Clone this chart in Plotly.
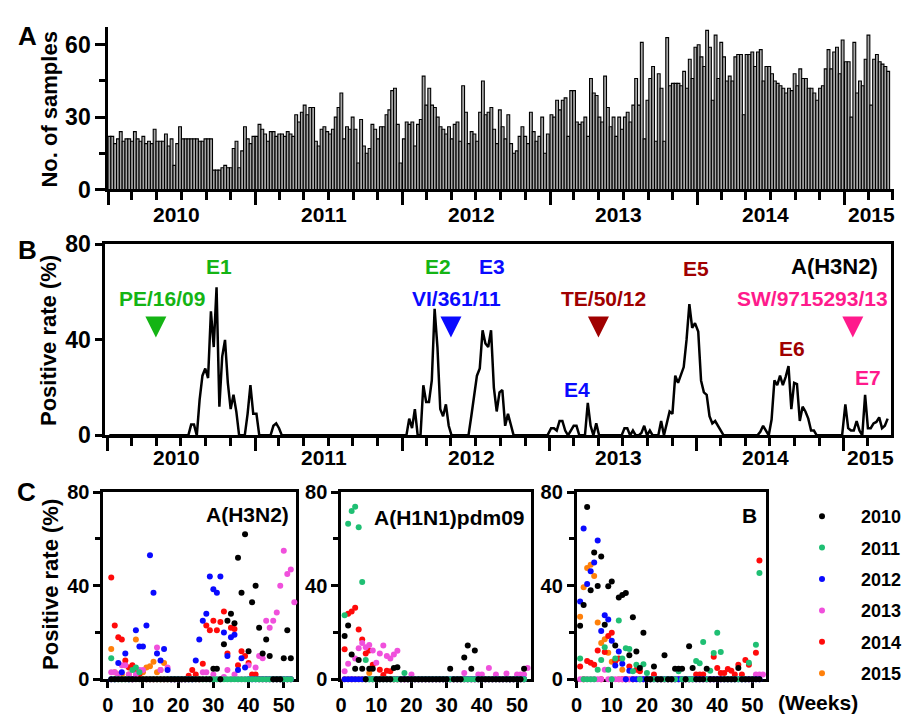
import plotly.graph_objects as go
from datetime import datetime, timedelta

W, H = 907, 727
FONT = 'Liberation Sans, Arial, sans-serif'


def fx(p):
    return p / W


def fy(p):
    return 1 - p / H


# ---------------- data ----------------
years = [2010, 2011, 2012, 2013, 2014, 2015]
year_labels = ['2010', '2011', '2012', '2013', '2014', '2015']
year_colors = ['#000000', '#1FBF73', '#0A0AFF', '#F050DC', '#FF0A0A', '#FF800A']
year_boundaries = ['2010-01-01', '2011-01-01', '2012-01-01', '2013-01-01', '2014-01-01', '2015-01-01']
year_label_dates = ['2010-06-20', '2011-06-20', '2012-06-20', '2013-06-20', '2014-06-20', '2015-03-08']

# Panel A: weekly number of samples
samples_2010 = [22, 22, 19, 21, 24, 20, 21, 21, 20, 24, 21, 20, 22, 19, 20, 19, 25, 20, 20, 20,
                23, 18, 21, 10, 19, 26, 21, 21, 21, 21, 21, 21, 20, 20, 21, 21, 21, 8, 8, 8,
                9, 10, 9, 9, 17, 20, 9, 16, 26, 21, 19, 22]
samples_2011 = [22, 27, 25, 23, 20, 24, 24, 22, 23, 23, 22, 24, 23, 22, 31, 28, 32, 35, 31, 34,
                34, 20, 18, 25, 26, 24, 23, 25, 30, 34, 40, 21, 26, 25, 30, 25, 11, 29, 18, 15,
                17, 27, 25, 21, 26, 26, 31, 33, 41, 42, 27, 11]
samples_2012 = [21, 28, 27, 28, 18, 27, 29, 47, 35, 42, 35, 34, 30, 26, 25, 23, 26, 21, 27, 28,
                20, 43, 32, 19, 24, 23, 20, 32, 45, 31, 32, 34, 25, 19, 33, 26, 21, 31, 19, 15,
                16, 22, 26, 22, 19, 32, 24, 20, 22, 30, 15, 23]
samples_2013 = [31, 30, 37, 33, 37, 38, 22, 41, 41, 28, 27, 28, 30, 22, 46, 40, 39, 30, 28, 47,
                34, 26, 30, 22, 30, 25, 30, 32, 28, 35, 46, 35, 61, 21, 37, 46, 51, 20, 48, 42,
                20, 63, 43, 44, 44, 44, 43, 49, 42, 54, 46, 59]
samples_2014 = [60, 55, 51, 66, 59, 37, 64, 46, 61, 55, 45, 47, 45, 55, 56, 56, 31, 56, 56, 57,
                51, 57, 58, 45, 51, 51, 48, 45, 44, 43, 42, 40, 42, 41, 48, 43, 50, 46, 46, 42,
                42, 40, 37, 42, 43, 50, 58, 50, 57, 59, 48, 62]
samples_2015 = [53, 53, 30, 61, 40, 45, 43, 54, 64, 35, 54, 56, 53, 52, 51, 49]

# A(H3N2) weekly positive rate (%)
h3_2010 = [0, 0, 0, 0, 0, 0, 0, 0, 0, 0, 0, 0, 0, 0, 0, 0, 0, 0, 0, 0,
           0, 0, 0, 0, 0, 0, 0, 0, 0, 4.5, 4.5, 0, 15, 25, 28, 24, 52, 37, 62, 12,
           33, 40, 22, 11, 17, 10, 0, 0, 0, 9, 21, 9]
h3_2011 = [9, 0, 0, 0, 0, 0, 4, 5, 3, 0, 0, 0, 0, 0, 0, 0, 0, 0, 0, 0,
           0, 0, 0, 0, 0, 0, 0, 0, 0, 0, 0, 0, 0, 0, 0, 0, 0, 0, 0, 0,
           0, 0, 0, 0, 0, 0, 0, 0, 0, 0, 0, 0]
h3_2012 = [0, 0, 7, 3, 11, 0, 0, 21, 14, 14, 23, 53, 37, 11, 8, 13, 4, 0, 0, 0,
           0, 0, 0, 0, 8, 17, 25, 28, 44, 38.5, 37, 44, 20, 10, 18, 19, 4, 9, 5, 0,
           0, 0, 0, 0, 0, 0, 0, 0, 0, 0, 0, 0]
h3_2013 = [3, 3, 2, 6, 6, 2, 0, 2, 4, 4, 0, 0, 0, 13.6, 4, 0, 5, 0, 0, 0,
           0, 0, 0, 0, 0, 0, 3, 3, 0, 2, 0, 0, 1, 4, 0, 2, 0, 0, 0, 6,
           0, 5, 10, 9, 25, 22, 25, 28.6, 40, 55, 45, 47, 33]
h3_2014 = [43.5, 23, 18, 17, 8, 5, 6, 4, 2, 0, 0, 0, 0, 0, 0, 0, 0, 0, 0, 0,
           0, 0, 1.5, 4, 2, 0, 6.6, 23, 21, 25, 21, 24.5, 29, 11, 22, 21.5, 6, 12, 10, 7,
           2, 2, 0, 0, 0, 0, 0, 0, 0, 0, 0, 0]
h3_2015 = [13, 3, 2, 2, 6, 2, 0, 17, 3, 3, 5, 5.6, 7.5, 3, 4, 7]

# A(H1N1)pdm09 weekly positive rate (%)
h1_2010 = [18.5, 23, 10.6, 4.5, 8.2, 4.5, 0, 4.5, 4.5, 0, 0, 0, 0, 0, 4.8, 5.2, 0, 0, 0, 0,
           0, 0, 0, 0, 0, 0, 0, 0, 0, 0, 4.5, 0, 0, 0, 9.3, 14.4, 4.5, 12.3, 0, 0,
           0, 0, 0, 0, 0, 0, 0, 0, 0, 0, 0, 4.5]
h1_2011 = [27.4, 66.5, 72, 73.8, 65, 41.6, 8.2, 0, 0, 0, 0, 0, 0, 0, 0, 0, 0, 2.7, 0, 0,
           0, 0, 0, 0, 0, 0, 0, 0, 0, 0, 0, 0, 0, 0, 0, 0, 0, 0, 0, 0,
           0, 0, 0, 0, 0, 0, 0, 0, 0, 0, 0, 0]
h1_2012 = [0, 0, 0, 0, 0, 0, 0, 0, 0, 0, 0, 0, 0, 0, 0, 0, 0, 0, 0, 0,
           0, 0, 0, 0, 0, 0, 0, 0, 0, 0, 0, 0, 0, 0, 0, 0, 0, 0, 0, 0,
           0, 0, 0, 0, 0, 0, 0, 0, 0, 0, 0, 0]
h1_2013 = [3.4, 6.6, 0, 8.9, 13.3, 15.5, 13.7, 14.7, 12.3, 7.1, 11, 14.4, 10, 8.9, 10.6, 12.2, 0, 0, 0, 2,
           0, 0, 0, 0, 0, 0, 0, 0, 0, 0, 0, 0, 0, 0, 2.7, 0, 0, 0, 2, 2,
           0, 4.8, 0, 2, 0, 0, 2.5, 0, 0, 2, 2, 2, 4.8]
h1_2014 = [12.8, 28, 29, 30.6, 21.3, 17, 11, 12.3, 6.2, 0, 4.1, 1.8, 3.7, 3.4, 0, 0, 0, 0, 0, 0,
           0, 0, 0, 0, 0, 0, 0, 0, 0, 0, 0, 0, 0, 0, 0, 0, 0, 0, 0, 0,
           0, 0, 0, 0, 0, 0, 0, 0, 0, 0, 0, 0]
h1_2015 = [0, 0, 0, 0, 0, 0, 0, 2.7, 0, 0, 0, 0, 0, 0, 0, 0]

# Influenza B weekly positive rate (%)
b_2010 = [22.9, 31.8, 73.7, 38.1, 54.2, 39.9, 52.5, 23.3, 39.8, 41.8, 14.4, 35, 36, 36.9, 10.3, 26.5, 11.9, 4.8, 19.9, 0,
          0, 5.5, 0, 0, 10.3, 0, 0, 4.5, 4.5, 4.5, 0, 14.1, 4.8, 0, 0, 0, 4.5, 0, 0, 0,
          0, 0, 0, 0, 0, 4.8, 0, 0, 0, 0, 0, 0]
b_2011 = [8.9, 0, 0, 0, 0, 4.1, 8.2, 13.7, 4.1, 0, 8.9, 25.1, 8.9, 13.3, 13, 3.4, 6.2, 0, 6.4, 2.7,
          0, 0, 0, 0, 0, 0, 0, 0, 3.4, 0, 0, 0, 0, 7.8, 6.9, 16, 0, 3.7, 11.2, 19.9,
          11.7, 0, 0, 0, 0, 0, 0, 0, 7.1, 0, 14.8, 45.5]
b_2012 = [33.3, 64.5, 40.7, 46.2, 50, 59.4, 20.6, 27.4, 25.6, 16.5, 5.9, 11.9, 6.6, 0, 3.7, 0, 0, 0, 0, 0,
          0, 0, 0, 0, 0, 0, 0, 0, 0, 0, 0, 0, 0, 0, 0, 0, 0, 0, 0, 0,
          0, 0, 0, 0, 0, 0, 0, 0, 0, 0, 0, 0]
b_2013 = [0, 0, 0, 0, 0, 0, 0, 4.1, 0, 0, 0, 0, 0, 0, 0, 0, 0, 0, 0, 0,
          0, 0, 0, 0, 0, 0, 0, 0, 0, 0, 0, 0, 0, 0, 0, 0, 0, 0, 0, 0,
          0, 0, 0, 0, 0, 0, 0, 0, 0, 0, 2, 2, 2]
b_2014 = [5.5, 0, 7.8, 7.1, 6.2, 12.3, 0, 11.7, 18.5, 19.9, 7.8, 8.9, 0, 0, 5.5, 0, 4.1, 3.4, 0, 0,
          0, 2, 0, 0, 0, 0, 0, 0, 0, 0, 0, 0, 0, 2, 2, 2, 0, 0, 9.6, 4.8,
          2.7, 2.7, 4.4, 3.7, 2, 6.2, 2, 8.2, 6.2, 0, 11.4, 50.8]
b_2015 = [26.7, 39.4, 47.6, 49, 44.2, 24.3, 15.5, 17.1, 11.4, 7.5, 7.8, 0, 4.1, 0, 0, 0]

# vaccine strain markers in panel B
strain_names = ['PE/16/09', 'VI/361/11', 'TE/50/12', 'SW/9715293/13']
strain_dates = ['2010-04-30', '2012-05-01', '2013-05-02', '2015-01-23']
strain_colors = ['#14B414', '#0A0AFF', '#A00000', '#FF1A8C']
strain_level = 41

samples_by_year = [samples_2010, samples_2011, samples_2012, samples_2013, samples_2014, samples_2015]
h3_by_year = [h3_2010, h3_2011, h3_2012, h3_2013, h3_2014, h3_2015]
h1_by_year = [h1_2010, h1_2011, h1_2012, h1_2013, h1_2014, h1_2015]
b_by_year = [b_2010, b_2011, b_2012, b_2013, b_2014, b_2015]


def wdate(yr, w):
    return datetime(yr, 1, 1) + timedelta(days=(w - 0.5) * 7)


fig = go.Figure()

# ---------- Panel A ----------
xa, ya = [], []
for yr, vals in zip(years, samples_by_year):
    for i, v in enumerate(vals):
        xa.append(wdate(yr, i + 1))
        ya.append(v)
fig.add_trace(go.Bar(x=xa, y=ya, width=7 * 86400000,
                     marker=dict(color='#a8a8a8', line=dict(color='black', width=1.1)),
                     xaxis='x', yaxis='y', showlegend=False))

# ---------- Panel B ----------
xb, yb = [], []
for yr, vals in zip(years, h3_by_year):
    for i, v in enumerate(vals[:52]):
        xb.append(wdate(yr, i + 1))
        yb.append(v)
fig.add_trace(go.Scatter(x=xb, y=yb, mode='lines', line=dict(color='black', width=2.5),
                         xaxis='x2', yaxis='y2', showlegend=False))
fig.add_trace(go.Scatter(x=strain_dates, y=[strain_level] * len(strain_dates), mode='markers',
                         marker=dict(symbol='arrow-down', size=21, color=strain_colors, line=dict(width=0)),
                         xaxis='x2', yaxis='y2', showlegend=False, cliponaxis=False))

# ---------- Panel C ----------
panels = [(h3_by_year, 'x3', 'y3'), (h1_by_year, 'x4', 'y4'), (b_by_year, 'x5', 'y5')]
for k, (data, xr, yr_) in enumerate(panels):
    for j in reversed(range(len(years))):
        vals = data[j]
        fig.add_trace(go.Scatter(
            x=list(range(1, len(vals) + 1)), y=vals, mode='markers',
            marker=dict(size=6, color=year_colors[j], line=dict(width=0)),
            name=year_labels[j], legendgroup=year_labels[j], showlegend=(k == 0),
            legendrank=j + 1,
            xaxis=xr, yaxis=yr_, cliponaxis=False))

# ---------- axes ----------
axis_common = dict(showline=True, linecolor='black', linewidth=2.5, showgrid=False, zeroline=False,
                   ticks='outside', tickcolor='black', tickwidth=2.5,
                   tickfont=dict(family=FONT, size=23, color='black', weight='bold'))

date_axis = dict(axis_common, type='date', tickmode='array', tickvals=year_boundaries, ticklen=13,
                 showticklabels=False,
                 minor=dict(ticks='outside', dtick='M2', tick0='2010-01-01', ticklen=8, tickwidth=2.5,
                            tickcolor='black', showgrid=False))

layout = dict(
    width=W, height=H, margin=dict(l=0, r=0, t=0, b=0), autosize=False,
    paper_bgcolor='white', plot_bgcolor='white',
    font=dict(family=FONT, color='black', weight='bold'),
    xaxis=dict(date_axis, domain=[fx(104), fx(905)], range=['2010-01-01', '2015-05-04'], anchor='y'),
    yaxis=dict(axis_common, domain=[fy(183), fy(15)], range=[0, 67.2], anchor='x',
               tickvals=[0, 30, 60], ticklen=10,
               minor=dict(ticks='outside', tickvals=[15, 45], ticklen=6, tickwidth=2.5, tickcolor='black')),
    xaxis2=dict(date_axis, domain=[fx(101), fx(902)], range=['2009-12-25', '2015-04-28'], anchor='y2', mirror=True),
    yaxis2=dict(axis_common, domain=[fy(438), fy(240)], range=[0, 80], anchor='x2',
                tickvals=[0, 40, 80], ticklen=7, mirror=True),
    showlegend=True,
    legend=dict(x=fx(792), y=fy(503), xanchor='left', yanchor='top', traceorder='grouped',
                tracegroupgap=5, itemwidth=68, bgcolor='rgba(0,0,0,0)',
                font=dict(family=FONT, size=18, color='black', weight='bold')),
)

c_x_domains = [[fx(99), fx(296)], [fx(341.5), fx(535.5)], [fx(581.5), fx(775)]]
c_x_ranges = [[-1.3, 53.6], [0, 54.1], [0, 54]]
for k in range(3):
    xn = 'xaxis%d' % (k + 3)
    yn = 'yaxis%d' % (k + 3)
    layout[xn] = dict(axis_common, domain=c_x_domains[k], range=c_x_ranges[k], anchor='y%d' % (k + 3),
                      tickmode='linear', tick0=0, dtick=10, ticklen=6, mirror=True, layer='below traces',
                      tickfont=dict(family=FONT, size=20, color='black', weight='bold'))
    layout[yn] = dict(axis_common, domain=[fy(691), fy(497)], range=[0, 80], anchor='x%d' % (k + 3),
                      tickvals=[0, 40, 80], ticklen=7, mirror=True, layer='below traces',
                      tickfont=dict(family=FONT, size=20, color='black', weight='bold'),
                      minor=dict(ticks='outside', tickvals=[20, 60], ticklen=5, tickwidth=2.5, tickcolor='black'))

fig.update_layout(**layout)

# ---------- text ----------
annotations = []


def ann(text, xp, yp, size, color='black', angle=0):
    annotations.append(dict(text=text, x=fx(xp), y=fy(yp), xref='paper', yref='paper', showarrow=False,
                            xanchor='center', yanchor='middle', textangle=angle,
                            font=dict(family=FONT, size=size, color=color, weight='bold')))


# year labels for panels A and B
for lab, d in zip(year_labels, year_label_dates):
    for ypx, xr in ((209, 'x'), (461.5, 'x2')):
        annotations.append(dict(text=lab, x=d, y=fy(ypx), xref=xr, yref='paper', showarrow=False,
                                xanchor='center', yanchor='middle',
                                font=dict(family=FONT, size=21, color='black', weight='bold')))

ann('A', 22, 24, 26)
ann('B', 22, 246, 26)
ann('C', 21, 497, 26)
ann('No. of samples', 44, 100, 22, angle=-90)
ann('Positive rate (%)', 44, 340, 22, angle=-90)
ann('Positive rate (%)', 46, 593, 22, angle=-90)

green, blue, dred, pink = strain_colors
ann('E1', 217, 263, 21, green)
ann('PE/16/09', 159, 296, 21, green)
ann('E2', 440, 263, 21, green)
ann('VI/361/11', 459, 296, 21, blue)
ann('E3', 495, 263, 21, blue)
ann('E4', 582, 390, 21, blue)
ann('TE/50/12', 609, 296, 21, dred)
ann('E5', 703, 265, 21, dred)
ann('E6', 801, 348, 21, dred)
ann('SW/9715293/13', 822, 296, 21, pink)
ann('E7', 878, 378, 21, pink)
ann('A(H3N2)', 844, 263, 22)

ann('A(H3N2)', 246, 520, 21)
ann('A(H1N1)pdm09', 452, 523, 21)
ann('B', 758, 521, 21)
ann('(Weeks)', 828, 715, 21)

fig.update_layout(annotations=annotations)
fig.write_html('out.html')
